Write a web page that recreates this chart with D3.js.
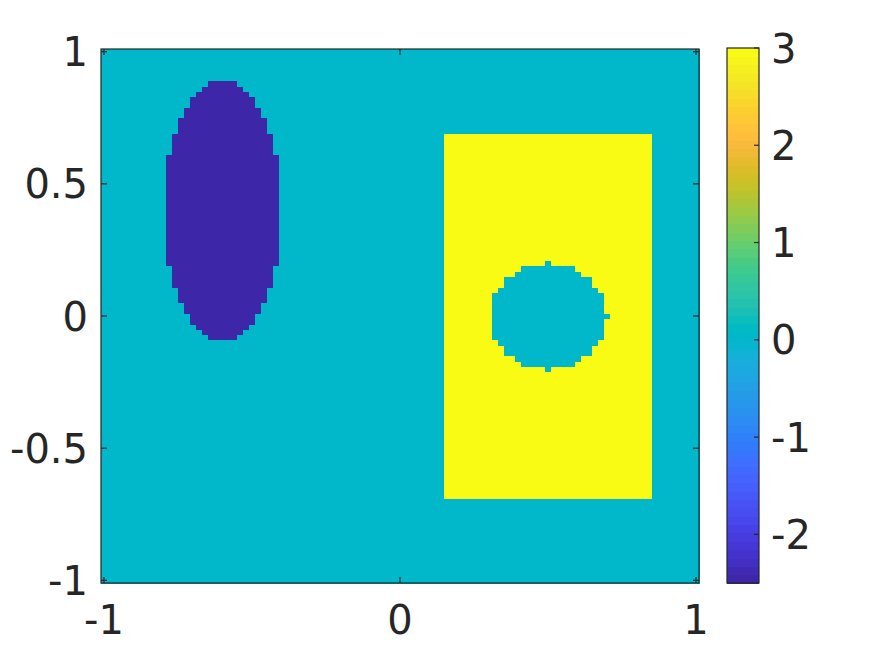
<!DOCTYPE html>
<html>
<head>
<meta charset="utf-8">
<script src="https://cdn.jsdelivr.net/npm/d3@7/dist/d3.min.js"></script>
<style>
  html, body { margin: 0; padding: 0; background: #fff; }
  svg { display: block; }
  text { font-family: "DejaVu Sans", sans-serif; fill: #262626; }
</style>
</head>
<body>
<svg id="chart" width="875" height="656"></svg>
<script>
// ---------- data ----------
const gridStart = -1, gridEnd = 1, gridStep = 0.02;   // sample grid (101 x 101)
const backgroundValue = 0;
// rectangle: [xmin, xmax, ymin, ymax], value
const rectBounds = [0.15, 0.85, -0.7, 0.7];
const rectValue = 3;
// circle (hole inside rectangle): [cx, cy, r], value
const circleParams = [0.5, 0, 0.2];
const circleValue = 0;
// boundary samples that fall inside the circle
const circleExtraPoints = [[0.5, 0.2], [0.5, -0.2], [0.7, 0]];
// ellipse: [cx, cy, rx, ry], value
const ellipseParams = [-0.6, 0.4, 0.2, 0.5];
const ellipseValue = -2.5;
const colorLimits = [-2.5, 3];
const xTicks = [-1, 0, 1];
const yTicks = [-1, -0.5, 0, 0.5, 1];
const cbTicks = [-2, -1, 0, 1, 2, 3];
const parula = [
[0.2422,0.1504,0.6603],[0.2504,0.1650,0.7076],[0.2578,0.1818,0.7511],[0.2647,0.1978,0.7952],
[0.2706,0.2147,0.8364],[0.2751,0.2342,0.8710],[0.2783,0.2559,0.8991],[0.2803,0.2782,0.9221],
[0.2813,0.3006,0.9414],[0.2810,0.3228,0.9579],[0.2795,0.3447,0.9717],[0.2760,0.3667,0.9829],
[0.2699,0.3892,0.9906],[0.2602,0.4123,0.9952],[0.2440,0.4358,0.9988],[0.2206,0.4603,0.9973],
[0.1963,0.4847,0.9892],[0.1834,0.5074,0.9798],[0.1786,0.5289,0.9682],[0.1764,0.5499,0.9520],
[0.1687,0.5703,0.9359],[0.1540,0.5902,0.9218],[0.1460,0.6091,0.9079],[0.1380,0.6276,0.8973],
[0.1248,0.6459,0.8883],[0.1113,0.6635,0.8763],[0.0952,0.6798,0.8598],[0.0689,0.6948,0.8394],
[0.0297,0.7082,0.8163],[0.0036,0.7203,0.7917],[0.0067,0.7312,0.7660],[0.0433,0.7411,0.7394],
[0.0964,0.7500,0.7120],[0.1408,0.7584,0.6842],[0.1717,0.7670,0.6554],[0.1938,0.7758,0.6251],
[0.2161,0.7843,0.5923],[0.2470,0.7918,0.5567],[0.2906,0.7973,0.5188],[0.3406,0.8008,0.4789],
[0.3909,0.8029,0.4354],[0.4456,0.8024,0.3909],[0.5044,0.7993,0.3480],[0.5616,0.7942,0.3045],
[0.6174,0.7876,0.2612],[0.6720,0.7793,0.2227],[0.7242,0.7698,0.1910],[0.7738,0.7598,0.1646],
[0.8203,0.7498,0.1535],[0.8634,0.7406,0.1596],[0.9035,0.7330,0.1774],[0.9393,0.7288,0.2100],
[0.9728,0.7298,0.2394],[0.9956,0.7434,0.2371],[0.9970,0.7659,0.2199],[0.9952,0.7893,0.2028],
[0.9892,0.8136,0.1885],[0.9786,0.8386,0.1766],[0.9676,0.8639,0.1643],[0.9610,0.8890,0.1537],
[0.9597,0.9135,0.1423],[0.9628,0.9373,0.1265],[0.9691,0.9606,0.1064],[0.9769,0.9839,0.0805]
];

// ---------- field ----------
const nPts = Math.round((gridEnd - gridStart) / gridStep) + 1;
const coords = d3.range(nPts).map(i => Math.round((gridStart + i * gridStep) * 100) / 100);
const eps = 1e-9;
function fieldValue(x, y) {
  let v = backgroundValue;
  const [rx0, rx1, ry0, ry1] = rectBounds;
  if (x > rx0 + eps && x < rx1 - eps && y > ry0 + eps && y < ry1 - eps) v = rectValue;
  const [ccx, ccy, cr] = circleParams;
  const inCircle = ((x - ccx) ** 2 + (y - ccy) ** 2) < cr * cr - eps ||
    circleExtraPoints.some(p => Math.abs(p[0] - x) < eps && Math.abs(p[1] - y) < eps);
  if (inCircle) v = circleValue;
  const [ecx, ecy, erx, ery] = ellipseParams;
  if (((x - ecx) / erx) ** 2 + ((y - ecy) / ery) ** 2 < 1 - eps) v = ellipseValue;
  return v;
}
const cells = [];
coords.forEach(y => coords.forEach(x => cells.push({ x, y, v: fieldValue(x, y) })));

// ---------- scales ----------
const half = gridStep / 2;
const plot = { left: 101, right: 699, top: 49, bottom: 583 };
const xScale = d3.scaleLinear().domain([gridStart - half, gridEnd + half]).range([plot.left, plot.right]);
const yScale = d3.scaleLinear().domain([gridStart - half, gridEnd + half]).range([plot.bottom, plot.top]);
const toRgb = c => d3.rgb(c[0] * 255, c[1] * 255, c[2] * 255).toString();
const colorScale = d3.scaleQuantize().domain(colorLimits).range(parula.map(toRgb));

const svg = d3.select("#chart");
const axisColor = "#262626";

// image cells
const cw = xScale(half) - xScale(-half);
const ch = yScale(-half) - yScale(half);
svg.append("g").attr("shape-rendering", "crispEdges")
  .selectAll("rect").data(cells).join("rect")
  .attr("x", d => xScale(d.x - half))
  .attr("y", d => yScale(d.y + half))
  .attr("width", cw + 0.6)
  .attr("height", ch + 0.6)
  .attr("fill", d => colorScale(d.v));

// axes box and ticks
const ax = svg.append("g").attr("stroke", axisColor).attr("stroke-width", 1.2).attr("fill", "none");
ax.append("rect").attr("x", plot.left).attr("y", plot.top)
  .attr("width", plot.right - plot.left).attr("height", plot.bottom - plot.top);
const tl = 6;
xTicks.forEach(t => {
  ax.append("line").attr("x1", xScale(t)).attr("x2", xScale(t)).attr("y1", plot.bottom).attr("y2", plot.bottom - tl);
  ax.append("line").attr("x1", xScale(t)).attr("x2", xScale(t)).attr("y1", plot.top).attr("y2", plot.top + tl);
});
yTicks.forEach(t => {
  ax.append("line").attr("y1", yScale(t)).attr("y2", yScale(t)).attr("x1", plot.left).attr("x2", plot.left + tl);
  ax.append("line").attr("y1", yScale(t)).attr("y2", yScale(t)).attr("x1", plot.right).attr("x2", plot.right - tl);
});
const fs = 40;
svg.append("g").selectAll("text").data(xTicks).join("text")
  .attr("x", d => xScale(d)).attr("y", 634)
  .attr("text-anchor", "middle").attr("font-size", fs)
  .text(d => d3.format("")(d).replace("−", "-"));
svg.append("g").selectAll("text").data(yTicks).join("text")
  .attr("x", 88).attr("y", d => yScale(d) + fs * 0.364)
  .attr("text-anchor", "end").attr("font-size", fs)
  .text(d => String(d));

// colorbar
const cb = { left: 727, right: 759, top: 48, bottom: 583 };
const cbScale = d3.scaleLinear().domain(colorLimits).range([cb.bottom, cb.top]);
const nC = parula.length;
const bandVals = d3.range(nC).map(k => colorLimits[0] + (k + 0.5) * (colorLimits[1] - colorLimits[0]) / nC);
const bandH = (cb.bottom - cb.top) / nC;
svg.append("g").attr("shape-rendering", "crispEdges")
  .selectAll("rect").data(bandVals).join("rect")
  .attr("x", cb.left).attr("width", cb.right - cb.left)
  .attr("y", d => cbScale(d) - bandH / 2).attr("height", bandH + 0.6)
  .attr("fill", d => colorScale(d));
const cbg = svg.append("g").attr("stroke", axisColor).attr("stroke-width", 1.2).attr("fill", "none");
cbg.append("rect").attr("x", cb.left).attr("y", cb.top)
  .attr("width", cb.right - cb.left).attr("height", cb.bottom - cb.top);
cbTicks.forEach(t => {
  cbg.append("line").attr("x1", cb.right).attr("x2", cb.right - 5)
    .attr("y1", cbScale(t)).attr("y2", cbScale(t));
});
svg.append("g").selectAll("text").data(cbTicks).join("text")
  .attr("x", 771).attr("y", d => cbScale(d) + fs * 0.364)
  .attr("text-anchor", "start").attr("font-size", fs)
  .text(d => String(d));
</script>
</body>
</html>
